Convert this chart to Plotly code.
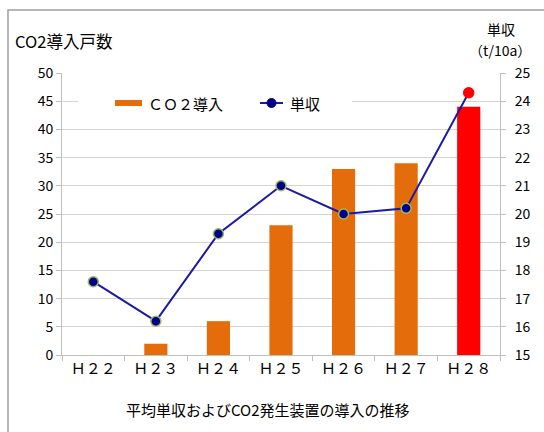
import plotly.graph_objects as go

categories = ["Ｈ２２", "Ｈ２３", "Ｈ２４", "Ｈ２５", "Ｈ２６", "Ｈ２７", "Ｈ２８"]
co2_units = [0, 2, 6, 23, 33, 34, 44]
yield_t = [17.6, 16.2, 19.3, 21.0, 20.0, 20.2, 24.3]
left_ticks = [0, 5, 10, 15, 20, 25, 30, 35, 40, 45, 50]
right_ticks = [15, 16, 17, 18, 19, 20, 21, 22, 23, 24, 25]

ORANGE = "#E46C0A"
RED = "#FF0000"
NAVY = "#00008B"
LINE = "#1A1AA6"
OUTLINE = "#9BBB59"
FONT = "Noto Sans CJK JP"

bar_colors = [ORANGE] * (len(categories) - 1) + [RED]
pt_colors = [NAVY] * (len(categories) - 1) + [RED]
pt_line = [OUTLINE] * (len(categories) - 1) + [RED]

# plot area geometry in pixels (for converting legend placement to paper coords)
W, H = 544, 432
L, R, T, B = 62, 44, 73, 77
PW, PH = W - L - R, H - T - B


def px(x):
    return (x - L) / PW


def py(y):
    return (H - B - y) / PH


fig = go.Figure()
fig.add_trace(go.Bar(
    x=categories, y=co2_units, name="ＣＯ２導入",
    marker=dict(color=bar_colors, line=dict(width=0)),
    width=0.37, yaxis="y",
))
fig.add_trace(go.Scatter(
    x=categories, y=yield_t, name="単収", yaxis="y2",
    mode="lines+markers",
    line=dict(color=LINE, width=2),
    marker=dict(size=10, color=pt_colors, line=dict(color=pt_line, width=1.5)),
))

axis_c = "#BFBFBF"
leg_y = 103
fig.update_layout(
    width=W, height=H,
    margin=dict(l=L, r=R, t=T, b=B),
    paper_bgcolor="white", plot_bgcolor="white",
    font=dict(family=FONT, size=14, color="#000000"),
    showlegend=False,
    xaxis=dict(
        showgrid=False, showline=True, linecolor=axis_c, linewidth=1,
        ticks="outside", tickson="boundaries", ticklen=5, tickcolor=axis_c,
        tickfont=dict(size=15), range=[-0.5, 6.5],
    ),
    yaxis=dict(
        range=[0, 50], tickvals=left_ticks, showgrid=True, gridcolor="#D4D4D4",
        showline=True, linecolor=axis_c, ticks="outside", ticklen=5, tickcolor=axis_c,
        zeroline=False, tickfont=dict(size=14),
    ),
    yaxis2=dict(
        range=[15, 25], tickvals=right_ticks, overlaying="y", side="right",
        showgrid=False, showline=True, linecolor=axis_c, ticks="outside",
        ticklen=5, tickcolor=axis_c, zeroline=False, tickfont=dict(size=14),
        ticklabelstandoff=6,
    ),
    annotations=[
        dict(text="CO2導入戸数", xref="paper", yref="paper", x=px(13), y=py(41),
             xanchor="left", yanchor="middle", showarrow=False, font=dict(size=16.5)),
        dict(text="単収", xref="paper", yref="paper", x=px(501), y=py(29),
             xanchor="center", yanchor="middle", showarrow=False, font=dict(size=14)),
        dict(text="（t/10a）", xref="paper", yref="paper", x=px(500), y=py(50),
             xanchor="center", yanchor="middle", showarrow=False, font=dict(size=14)),
        dict(text="平均単収およびCO2発生装置の導入の推移", xref="paper", yref="paper",
             x=px(268), y=py(410), xanchor="center", yanchor="middle", showarrow=False,
             font=dict(size=15)),
        dict(text="ＣＯ２導入", xref="paper", yref="paper", x=px(146), y=py(leg_y),
             xanchor="left", yanchor="middle", showarrow=False, font=dict(size=15)),
        dict(text="単収", xref="paper", yref="paper", x=px(288), y=py(leg_y),
             xanchor="left", yanchor="middle", showarrow=False, font=dict(size=15)),
    ],
    shapes=[
        dict(type="rect", xref="paper", yref="paper",
             x0=px(8), x1=px(560), y0=py(450), y1=py(10),
             line=dict(color="#A0A0A0", width=1.5), fillcolor="rgba(0,0,0,0)"),
        # legend background
        dict(type="rect", xref="paper", yref="paper", layer="above",
             x0=px(78), x1=px(352), y0=py(115), y1=py(91),
             line=dict(width=0), fillcolor="white"),
        dict(type="rect", xref="paper", yref="paper", layer="above",
             x0=px(115), x1=px(142), y0=py(106), y1=py(100),
             line=dict(width=0), fillcolor=ORANGE),
        dict(type="line", xref="paper", yref="paper", layer="above",
             x0=px(260), x1=px(283), y0=py(leg_y), y1=py(leg_y),
             line=dict(color=LINE, width=2)),
        dict(type="circle", xref="paper", yref="paper", layer="above",
             x0=px(267), x1=px(276), y0=py(leg_y + 4.5), y1=py(leg_y - 4.5),
             line=dict(color=NAVY, width=1), fillcolor=NAVY),
    ],
)

fig.write_html("out.html")
